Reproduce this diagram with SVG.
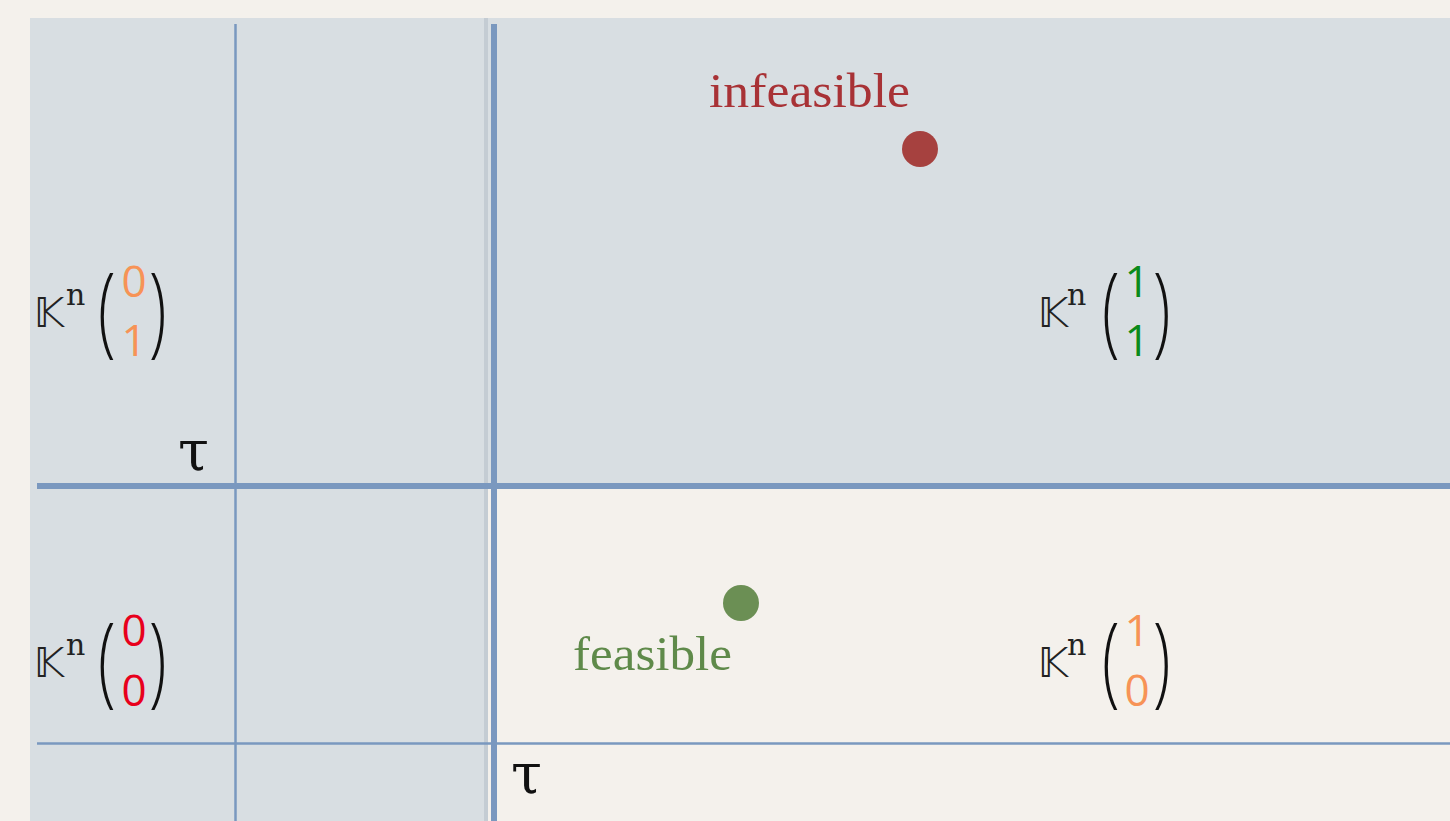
<svg xmlns="http://www.w3.org/2000/svg" width="1450" height="821" viewBox="0 0 1450 821">
<defs>
<style>
.ln{stroke:#7a98bf;fill:none}
.thin{stroke-width:2.5}
.thick{stroke-width:6}
.kk{font-family:"DejaVu Sans",sans-serif;font-size:40px;fill:#222}
.sup{font-family:"DejaVu Serif",serif;font-size:30px;fill:#222}
.par{font-family:"Open Sans","Liberation Sans",sans-serif;font-weight:300;font-size:99px;fill:#111}
.dig{font-family:"Open Sans","Liberation Sans",sans-serif;font-weight:400;font-size:44px}
.tau{font-family:"DejaVu Serif",serif;font-size:56px;fill:#111}
.lbl{font-family:"Liberation Serif",serif;font-size:48px}
</style>
<filter id="sh" x="-5%" y="-5%" width="110%" height="110%"><feGaussianBlur stdDeviation="2"/></filter>
</defs>
<rect width="1450" height="821" fill="#f4f1ec"/>
<g id="regions">
<rect x="30" y="18" width="1420" height="469" fill="#d8dee2"/>
<rect x="30" y="487" width="457" height="334" fill="#d8dee2"/>
<line x1="486" y1="18" x2="486" y2="821" stroke="#c4ccd3" stroke-width="4"/>
</g>
<g id="connectors">
<line x1="37" y1="490" x2="1450" y2="490" stroke="#9aa4ae" stroke-width="6" opacity="0.4" filter="url(#sh)"/>
<line x1="497" y1="24" x2="497" y2="821" stroke="#9aa4ae" stroke-width="6" opacity="0.4" filter="url(#sh)"/>
<line class="ln thin" x1="235.5" y1="24" x2="235.5" y2="821"/>
<line class="ln thin" x1="37" y1="743.5" x2="1450" y2="743.5"/>
<line class="ln thick" x1="37" y1="486" x2="1450" y2="486"/>
<line class="ln thick" x1="494" y1="24" x2="494" y2="821"/>
</g>
<g id="tau-left"><text class="tau" x="178" y="470">τ</text></g>
<g id="tau-bottom"><text class="tau" x="511" y="793">τ</text></g>
<g id="infeasible">
<text class="lbl" x="709" y="107" fill="#a83236" textLength="201" lengthAdjust="spacingAndGlyphs">infeasible</text>
<circle cx="920" cy="149" r="18" fill="#a6413f"/>
</g>
<g id="feasible">
<circle cx="741" cy="603" r="18" fill="#6b8f54"/>
<text class="lbl" x="573" y="670" fill="#5f8a4a" textLength="159" lengthAdjust="spacingAndGlyphs">feasible</text>
</g>
<g id="K01">
<text class="kk" x="34" y="327">𝕂</text><text class="sup" x="66" y="305">n</text>
<text class="par" transform="translate(98,344) scale(0.65,1)">(</text>
<text class="dig" x="134" y="297" fill="#f79356" text-anchor="middle">0</text>
<text class="dig" x="134" y="356" fill="#f79356" text-anchor="middle">1</text>
<text class="par" transform="translate(149,344) scale(0.65,1)">)</text>
</g>
<g id="K00">
<text class="kk" x="34" y="677">𝕂</text><text class="sup" x="66" y="655">n</text>
<text class="par" transform="translate(98,694) scale(0.65,1)">(</text>
<text class="dig" x="134" y="646" fill="#e8001c" text-anchor="middle">0</text>
<text class="dig" x="134" y="706" fill="#e8001c" text-anchor="middle">0</text>
<text class="par" transform="translate(149,694) scale(0.65,1)">)</text>
</g>
<g id="K11">
<text class="kk" x="1038" y="327">𝕂</text><text class="sup" x="1067" y="305">n</text>
<text class="par" transform="translate(1102,344) scale(0.65,1)">(</text>
<text class="dig" x="1137" y="297" fill="#0a8a1a" text-anchor="middle">1</text>
<text class="dig" x="1137" y="356" fill="#0a8a1a" text-anchor="middle">1</text>
<text class="par" transform="translate(1153,344) scale(0.65,1)">)</text>
</g>
<g id="K10">
<text class="kk" x="1038" y="677">𝕂</text><text class="sup" x="1067" y="655">n</text>
<text class="par" transform="translate(1102,694) scale(0.65,1)">(</text>
<text class="dig" x="1137" y="646" fill="#f79356" text-anchor="middle">1</text>
<text class="dig" x="1137" y="706" fill="#f79356" text-anchor="middle">0</text>
<text class="par" transform="translate(1153,694) scale(0.65,1)">)</text>
</g>
</svg>
